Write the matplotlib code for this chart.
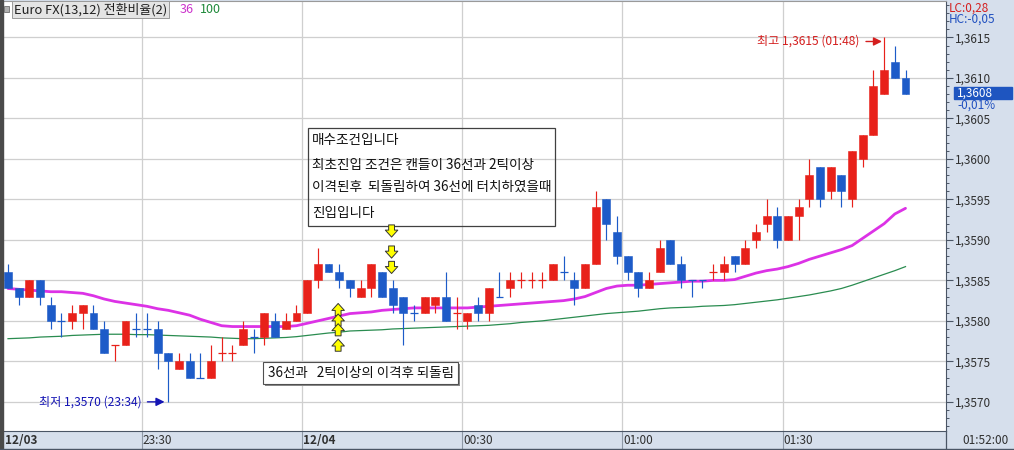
import matplotlib
matplotlib.use("Agg")
import matplotlib.pyplot as plt
import matplotlib.transforms as mtransforms
from matplotlib.lines import Line2D
from matplotlib.patches import Rectangle
from matplotlib.ticker import FuncFormatter, MultipleLocator
import numpy as np
import pandas as pd

plt.rcParams["font.family"] = ["Noto Sans CJK KR", "DejaVu Sans"]

# 2-minute Euro FX bars, 12/03 23:04 .. 12/04 01:52
opens = [
    1.3586, 1.3584, 1.3583, 1.3585, 1.3582, 1.3580, 1.3580, 1.3581, 1.3581, 1.3579,
    1.3577, 1.3577, 1.3579, 1.3579, 1.3579, 1.3576, 1.3574, 1.3575, 1.3573, 1.3573,
    1.3576, 1.3576, 1.3577, 1.3578, 1.3578, 1.3580, 1.3579, 1.3580, 1.3581, 1.3585,
    1.3587, 1.3586, 1.3585, 1.3583, 1.3584, 1.3586, 1.3584, 1.3583, 1.3581, 1.3581,
    1.3582, 1.3583, 1.3581, 1.3580, 1.3582, 1.3581, 1.3583, 1.3584, 1.3585, 1.3585,
    1.3585, 1.3585, 1.3586, 1.3585, 1.3584, 1.3587, 1.3595, 1.3591, 1.3588, 1.3586,
    1.3584, 1.3586, 1.3590, 1.3587, 1.3585, 1.3585, 1.3586, 1.3586, 1.3588, 1.3587,
    1.3590, 1.3592, 1.3593, 1.3590, 1.3593, 1.3595, 1.3599, 1.3596, 1.3598, 1.3595,
    1.3600, 1.3603, 1.3608, 1.3612, 1.3610,
]
highs = [
    1.3587, 1.3584, 1.3585, 1.3585, 1.3583, 1.3581, 1.3582, 1.3582, 1.3582, 1.3580,
    1.3577, 1.3580, 1.3581, 1.3581, 1.3580, 1.3576, 1.3576, 1.3576, 1.3576, 1.3577,
    1.3578, 1.3577, 1.3580, 1.3579, 1.3581, 1.3581, 1.3581, 1.3582, 1.3585, 1.3589,
    1.3587, 1.3587, 1.3585, 1.3585, 1.3587, 1.3586, 1.3585, 1.3583, 1.3582, 1.3583,
    1.3583, 1.3586, 1.3583, 1.3581, 1.3583, 1.3584, 1.3586, 1.3586, 1.3586, 1.3586,
    1.3586, 1.3587, 1.3588, 1.3586, 1.3587, 1.3596, 1.3595, 1.3593, 1.3588, 1.3586,
    1.3586, 1.3590, 1.3590, 1.3588, 1.3585, 1.3585, 1.3587, 1.3588, 1.3588, 1.3590,
    1.3592, 1.3595, 1.3594, 1.3593, 1.3595, 1.3600, 1.3599, 1.3599, 1.3598, 1.3601,
    1.3603, 1.3611, 1.3615, 1.3614, 1.3611,
]
lows = [
    1.3584, 1.3582, 1.3583, 1.3582, 1.3579, 1.3578, 1.3579, 1.3579, 1.3579, 1.3576,
    1.3575, 1.3577, 1.3578, 1.3578, 1.3574, 1.3570, 1.3574, 1.3573, 1.3573, 1.3573,
    1.3575, 1.3575, 1.3577, 1.3576, 1.3577, 1.3578, 1.3579, 1.3580, 1.3581, 1.3584,
    1.3586, 1.3584, 1.3583, 1.3583, 1.3583, 1.3583, 1.3581, 1.3577, 1.3580, 1.3581,
    1.3581, 1.3580, 1.3579, 1.3579, 1.3580, 1.3580, 1.3583, 1.3583, 1.3584, 1.3584,
    1.3584, 1.3585, 1.3585, 1.3582, 1.3584, 1.3587, 1.3590, 1.3587, 1.3585, 1.3583,
    1.3584, 1.3586, 1.3587, 1.3584, 1.3583, 1.3584, 1.3585, 1.3585, 1.3586, 1.3587,
    1.3589, 1.3591, 1.3589, 1.3590, 1.3590, 1.3594, 1.3594, 1.3595, 1.3594, 1.3594,
    1.3599, 1.3603, 1.3608, 1.3610, 1.3608,
]
closes = [
    1.3584, 1.3583, 1.3585, 1.3583, 1.3580, 1.3580, 1.3581, 1.3582, 1.3579, 1.3576,
    1.3577, 1.3580, 1.3579, 1.3579, 1.3576, 1.3575, 1.3575, 1.3573, 1.3573, 1.3575,
    1.3576, 1.3576, 1.3579, 1.3578, 1.3581, 1.3578, 1.3580, 1.3581, 1.3585, 1.3587,
    1.3586, 1.3585, 1.3584, 1.3584, 1.3587, 1.3583, 1.3582, 1.3581, 1.3581, 1.3583,
    1.3583, 1.3580, 1.3581, 1.3581, 1.3581, 1.3584, 1.3583, 1.3585, 1.3585, 1.3585,
    1.3585, 1.3587, 1.3586, 1.3584, 1.3587, 1.3594, 1.3592, 1.3588, 1.3586, 1.3584,
    1.3585, 1.3589, 1.3587, 1.3585, 1.3585, 1.3585, 1.3586, 1.3587, 1.3587, 1.3589,
    1.3591, 1.3593, 1.3590, 1.3593, 1.3594, 1.3598, 1.3595, 1.3599, 1.3596, 1.3601,
    1.3603, 1.3609, 1.3611, 1.3610, 1.3608,
]
ma36 = [
    1.35840, 1.35839, 1.35838, 1.35837, 1.35836, 1.35836, 1.35835, 1.35834, 1.35831, 1.35827,
    1.35824, 1.35822, 1.35820, 1.35818, 1.35815, 1.35813, 1.35810, 1.35807, 1.35802, 1.35798,
    1.35794, 1.35793, 1.35793, 1.35793, 1.35793, 1.35793, 1.35793, 1.35794, 1.35797, 1.35800,
    1.35803, 1.35806, 1.35809, 1.35810, 1.35811, 1.35813, 1.35814, 1.35815, 1.35816, 1.35816,
    1.35816, 1.35816, 1.35816, 1.35816, 1.35817, 1.35818, 1.35819, 1.35820, 1.35821, 1.35822,
    1.35823, 1.35824, 1.35825, 1.35827, 1.35830, 1.35835, 1.35840, 1.35843, 1.35844, 1.35844,
    1.35845, 1.35846, 1.35847, 1.35848, 1.35849, 1.35849, 1.35850, 1.35850, 1.35851, 1.35855,
    1.35859, 1.35862, 1.35864, 1.35867, 1.35871, 1.35876, 1.35880, 1.35884, 1.35888, 1.35893,
    1.35902, 1.35911, 1.35920, 1.35932, 1.35939,
]
ma100 = [
    1.357780, 1.357785, 1.357790, 1.357800, 1.357805, 1.357810, 1.357820, 1.357825, 1.357830, 1.357835,
    1.357835, 1.357835, 1.357830, 1.357830, 1.357825, 1.357820, 1.357815, 1.357810, 1.357805, 1.357800,
    1.357790, 1.357785, 1.357780, 1.357780, 1.357785, 1.357790, 1.357795, 1.357805, 1.357820, 1.357835,
    1.357850, 1.357860, 1.357875, 1.357880, 1.357885, 1.357890, 1.357900, 1.357905, 1.357910, 1.357915,
    1.357920, 1.357925, 1.357930, 1.357935, 1.357940, 1.357945, 1.357955, 1.357965, 1.357980, 1.357990,
    1.358000, 1.358015, 1.358030, 1.358045, 1.358060, 1.358075, 1.358090, 1.358100, 1.358110, 1.358120,
    1.358135, 1.358150, 1.358160, 1.358165, 1.358170, 1.358180, 1.358185, 1.358190, 1.358200, 1.358215,
    1.358230, 1.358245, 1.358260, 1.358280, 1.358300, 1.358320, 1.358345, 1.358370, 1.358400, 1.358440,
    1.358485, 1.358530, 1.358575, 1.358620, 1.358670,
]
first_bar = "2023-12-03 23:04"
bar_minutes = 2

RED = "#E8211A"
BLUE = "#1D5BC8"
MAGENTA = "#DC32E6"
GREEN = "#2A8C50"
GRID = "#CFCFCF"
PANEL = "#D6DFEC"
AXIS = "#4A5565"
TXT = "#303030"

W, H = 1014, 450
times = pd.date_range(first_bar, periods=len(opens), freq=f"{bar_minutes}min")
x = np.arange(len(opens))
o, h, l, c = (np.array(v) for v in (opens, highs, lows, closes))

# candle colour: red up, blue down, doji follows previous close / previous colour
cols = []
for i in range(len(o)):
    if c[i] > o[i]:
        cols.append(RED)
    elif c[i] < o[i]:
        cols.append(BLUE)
    elif i > 0 and c[i] > c[i - 1]:
        cols.append(RED)
    elif i > 0 and c[i] < c[i - 1]:
        cols.append(BLUE)
    else:
        cols.append(cols[-1] if cols else BLUE)

fig = plt.figure(figsize=(W / 100, H / 100), dpi=100, facecolor=PANEL)
ax = fig.add_axes([4 / W, 19 / H, 942 / W, 430 / H])
ax.set_facecolor("white")
ax.set_xlim(-0.374, 87.79)
ax.set_ylim(1.35664, 1.36195)

ax.plot(x, ma100, color=GREEN, lw=0.9, zorder=2)
ax.plot(x, ma36, color=MAGENTA, lw=2.0, zorder=2, solid_capstyle="round")

body_w = 0.74
ax.vlines(x, l, h, colors=cols, lw=0.85, zorder=3)
bottoms = np.minimum(o, c)
heights = np.abs(c - o)
solid = heights > 1e-9
ax.bar(x[solid], heights[solid], bottom=bottoms[solid], width=body_w,
       color=np.array(cols)[solid], edgecolor=np.array(cols)[solid], lw=0.4, zorder=4)
doji = ~solid
ax.hlines(c[doji], x[doji] - body_w / 2, x[doji] + body_w / 2,
          colors=np.array(cols)[doji], lw=0.9, zorder=4)

# grid / axes
yt = np.round(np.arange(1.3570, 1.36151, 0.0005), 4)
ax.set_yticks(yt)
ax.yaxis.set_minor_locator(MultipleLocator(0.0001))
ax.yaxis.tick_right()
ax.yaxis.set_major_formatter(FuncFormatter(lambda v, _: f"{v:.4f}".replace(".", ",")))
ax.tick_params(axis="y", which="major", length=5, width=0.8, color=AXIS,
               labelsize=8.5, labelcolor=TXT, pad=1.5)
ax.tick_params(axis="y", which="minor", length=2.5, width=0.7, color=AXIS)

grid_idx = [i for i, t in enumerate(times) if t.minute % 30 == 0]
grid_x = [i - 0.5 for i in grid_idx]
ax.set_xticks(grid_x)
ax.tick_params(axis="x", length=0, labelbottom=False)
ax.grid(True, which="major", color=GRID, lw=0.9, zorder=0)
ax.set_axisbelow(True)
ax.spines["left"].set_visible(False)
ax.spines["top"].set_color("#9A9A9A")
ax.spines["right"].set_color(AXIS)
ax.spines["bottom"].set_color(AXIS)

# time strip under the chart
blend = mtransforms.blended_transform_factory(ax.transData, ax.transAxes)
strip_y = -10 / 430
ax.text(-0.32, strip_y, times[0].strftime("%m/%d"), transform=blend, ha="left", va="center",
        fontsize=8.5, fontweight="bold", color=TXT)
for gi, gx in zip(grid_idx, grid_x):
    t = times[gi]
    if t.hour == 0 and t.minute == 0:
        lab, fw = t.strftime("%m/%d"), "bold"
    else:
        lab, fw = t.strftime("%H:%M"), "normal"
    ax.text(gx + 0.08, strip_y, lab, transform=blend, ha="left", va="center",
            fontsize=8.5, fontweight=fw, color=TXT)
    ax.plot([gx, gx], [-19 / 430, 0], transform=blend, clip_on=False,
            color="#8E98A6", lw=0.8)

fig.add_artist(Line2D([0, 1], [1 / H, 1 / H], color=AXIS, lw=1.0))
fig.add_artist(Line2D([946 / W, 946 / W], [0, 19 / H], color=AXIS, lw=0.9))
fig.add_artist(Rectangle((0, 0), 3 / W, 1, transform=fig.transFigure, color="#4A4A4A"))
fig.text(962 / W, 1 - 441 / H, times[-1].strftime("%H:%M:00"), fontsize=8.5,
         color=TXT, va="center", ha="left")

# right panel info
fig.text(949 / W, 1 - 8 / H, "LC:0,28", color="#D42020", fontsize=8.5, va="center")
fig.text(949 / W, 1 - 19 / H, "HC:-0,05", color="#2050C0", fontsize=8.5, va="center")
last = c[-1]
fyd = mtransforms.blended_transform_factory(fig.transFigure, ax.transData)
ax.add_patch(Rectangle((954 / W, last - 0.00006), 58 / W, 0.000152, transform=fyd,
                       color="#1E55C0", clip_on=False, zorder=6))
ax.text(957 / W, last + 0.000016, f"{last:.4f}".replace(".", ","), transform=fyd, color="white",
        fontsize=8.5, va="center", ha="left", zorder=7, clip_on=False)
ax.text(957 / W, last - 0.000140, "-0,01%", transform=fyd, color="#2050C0",
        fontsize=8.5, va="center", ha="left", zorder=7, clip_on=False)

# title / legend at top-left
fig.add_artist(Rectangle((4 / W, 1 - 12 / H), 5 / W, 6 / H, transform=fig.transFigure,
                         fc="#B0B0B0", ec="#707070", lw=0.6))
fig.text(14 / W, 1 - 9.5 / H, "Euro FX(13,12) 전환비율(2)", fontsize=9.3, color="#202020",
         va="center", ha="left",
         bbox=dict(boxstyle="square,pad=0.12", fc="#E4E4E4", ec="#9A9A9A", lw=0.7))
fig.text(180 / W, 1 - 9.5 / H, "36", fontsize=9, color="#CC33CC", va="center")
fig.text(200 / W, 1 - 9.5 / H, "100", fontsize=9, color="#1F8A3A", va="center")

# high / low markers
ih = int(np.argmax(h))
il = int(np.argmin(l))
hi_lab = f"최고 {h[ih]:.4f} ({times[ih]:%H:%M})".replace(".", ",")
lo_lab = f"최저 {l[il]:.4f} ({times[il]:%H:%M})".replace(".", ",")
ax.annotate("", xy=(ih - 0.2, h[ih] - 0.00005), xytext=(ih - 1.7, h[ih] - 0.00005),
            arrowprops=dict(arrowstyle="-|>,head_length=0.5,head_width=0.25", color="#D41E1E",
                            lw=1.0, shrinkA=0, shrinkB=0), zorder=6)
ax.text(ih - 2.3, h[ih] - 0.00005, hi_lab, color="#D41E1E", fontsize=8.7,
        ha="right", va="center", zorder=6)
ax.annotate("", xy=(il - 0.35, l[il]), xytext=(il - 1.95, l[il]),
            arrowprops=dict(arrowstyle="-|>,head_length=0.5,head_width=0.25", color="#1414B4",
                            lw=1.0, shrinkA=0, shrinkB=0), zorder=6)
ax.text(il - 2.5, l[il], lo_lab, color="#1414B4", fontsize=8.7,
        ha="right", va="center", zorder=6)


def fx(px):
    return (px - 4) / 942


def fy(py):
    return (431 - py) / 430


# note box
ax.add_patch(Rectangle((fx(308), fy(226)), fx(555) - fx(308), fy(128) - fy(226),
                       transform=ax.transAxes, fill=False, ec="#404040", lw=0.9, zorder=6))
note_lines = [
    "매수조건입니다",
    "최초진입 조건은 캔들이 36선과 2틱이상",
    "이격된후  되돌림하여 36선에 터치하였을때",
    "진입입니다",
]
for line, py in zip(note_lines, [140, 165.5, 187, 212.5]):
    ax.text(fx(312), fy(py), line, transform=ax.transAxes, fontsize=9.8, color="#111111",
            ha="left", va="center", zorder=7)

# small label box with shadow
ax.add_patch(Rectangle((fx(265), fy(386)), fx(460) - fx(265), fy(364) - fy(386),
                       transform=ax.transAxes, fc="#8A8A8A", ec="none", zorder=6))
ax.add_patch(Rectangle((fx(263), fy(384)), fx(458) - fx(263), fy(362) - fy(384),
                       transform=ax.transAxes, fc="white", ec="#505050", lw=0.8, zorder=6))
ax.text(fx(268), fy(373), "36선과   2틱이상의 이격후 되돌림", transform=ax.transAxes,
        fontsize=9.7, color="#111111", ha="left", va="center", zorder=7)

# yellow block arrows
arrow_style = "simple,head_width=0.9,head_length=0.5,tail_width=0.42"
half = 0.000075
for yc in [1.35814, 1.35801, 1.35789, 1.35770]:
    ax.annotate("", xy=(30.9, yc + half), xytext=(30.9, yc - half),
                arrowprops=dict(arrowstyle=arrow_style, fc="#FFFF00", ec="#333333",
                                lw=0.7, shrinkA=0, shrinkB=0, mutation_scale=10), zorder=8)
for yc in [1.35911, 1.35885, 1.35866]:
    ax.annotate("", xy=(35.9, yc - half), xytext=(35.9, yc + half),
                arrowprops=dict(arrowstyle=arrow_style, fc="#FFFF00", ec="#333333",
                                lw=0.7, shrinkA=0, shrinkB=0, mutation_scale=10), zorder=8)

fig.savefig("out.png", dpi=100, facecolor=PANEL)
